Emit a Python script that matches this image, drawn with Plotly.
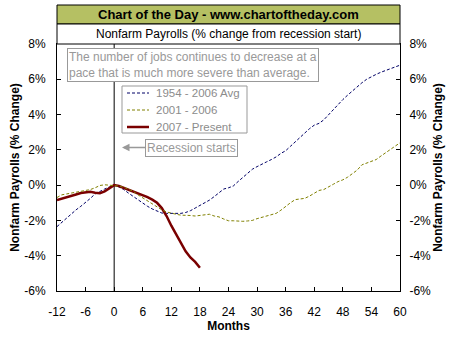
import plotly.graph_objects as go

# Months relative to the start of the recession
months = list(range(-12, 61))

# 1954 - 2006 average (% change from recession start)
avg_1954_2006 = [
    -2.35, -2.10, -1.88, -1.65, -1.40, -1.20, -1.00, -0.75, -0.50, -0.35, -0.22, -0.10,
    0.00, -0.10, -0.25, -0.45, -0.65, -0.85, -1.05, -1.20, -1.35, -1.48, -1.58, -1.60,
    -1.60, -1.60, -1.60, -1.55, -1.45, -1.30, -1.15, -1.00, -0.85, -0.65, -0.45, -0.22,
    -0.15, -0.05, 0.20, 0.45, 0.70, 0.90, 1.05, 1.20, 1.32, 1.45, 1.60, 1.80,
    1.95, 2.20, 2.45, 2.75, 3.00, 3.20, 3.40, 3.50, 3.70, 4.00, 4.30, 4.60,
    4.85, 5.10, 5.35, 5.55, 5.80, 6.00, 6.15, 6.28, 6.40, 6.50, 6.60, 6.70,
    6.80,
]

# 2001 - 2006 cycle
cycle_2001_2006 = [
    -0.70, -0.55, -0.50, -0.45, -0.38, -0.35, -0.30, -0.25, -0.15, -0.02, 0.02, 0.00,
    0.00, -0.05, -0.12, -0.22, -0.35, -0.55, -0.72, -0.90, -1.08, -1.25, -1.40, -1.52,
    -1.60, -1.65, -1.70, -1.70, -1.72, -1.75, -1.72, -1.65, -1.65, -1.75, -1.80, -1.92,
    -2.02, -2.02, -2.05, -2.05, -2.03, -2.00, -1.90, -1.82, -1.78, -1.70, -1.60, -1.42,
    -1.20, -1.00, -0.82, -0.78, -0.75, -0.62, -0.45, -0.30, -0.25, -0.12, 0.05, 0.20,
    0.30, 0.45, 0.65, 0.85, 1.15, 1.25, 1.32, 1.45, 1.65, 1.85, 2.05, 2.25,
    2.40,
]

# 2007 - present (months -12 .. 18)
months_current = list(range(-12, 19))
cycle_2007_present = [
    -0.85, -0.78, -0.70, -0.62, -0.53, -0.45, -0.40, -0.38, -0.43, -0.46, -0.35, -0.18,
    0.00, -0.05, -0.15, -0.25, -0.35, -0.45, -0.55, -0.68, -0.82, -1.00, -1.30, -1.75,
    -2.30, -2.80, -3.30, -3.75, -4.10, -4.35, -4.68,
]

series_names = ["1954 - 2006 Avg", "2001 - 2006", "2007 - Present"]

# Axis ticks
x_ticks = list(range(-12, 61, 6))
x_tick_labels = [str(v) for v in x_ticks]
y_ticks = list(range(-6, 9, 2))
y_tick_labels = [f"{v}%" for v in y_ticks]

FONT = "Arial, 'Liberation Sans', sans-serif"
GRAY = "#999999"
LEGEND_GRAY = "#8c8c8c"

line_styles = [
    dict(color="#000066", width=1, dash="3px,2px"),
    dict(color="#808000", width=1, dash="3px,2px"),
    dict(color="#7A0000", width=2.5),
]

fig = go.Figure()
fig.add_trace(go.Scatter(
    x=months, y=avg_1954_2006, mode="lines", name=series_names[0],
    line=line_styles[0],
))
# second series sits on the right-hand axis (same scale) so that axis is drawn
fig.add_trace(go.Scatter(
    x=months, y=cycle_2001_2006, mode="lines", name=series_names[1], yaxis="y2",
    line=line_styles[1],
))
fig.add_trace(go.Scatter(
    x=months_current, y=cycle_2007_present, mode="lines", name=series_names[2],
    line=line_styles[2],
))

L, R, T, B = 57, 54, 44, 49
W, H = 454, 340
PW, PH = W - L - R, H - T - B


def px_x(p):
    return (p - L) / PW


def px_y(p):
    return (H - B - p) / PH


axis_title_font = dict(family=FONT, size=12, color="black", weight="bold")
tick_font = dict(family=FONT, size=12, color="black")

fig.update_layout(
    width=W, height=H,
    margin=dict(l=L, r=R, t=T, b=B, pad=0),
    paper_bgcolor="white", plot_bgcolor="white",
    font=dict(family=FONT, size=12, color="black"),
    showlegend=False,
    xaxis=dict(
        range=[-12, 60], tickvals=x_ticks, ticktext=x_tick_labels,
        showgrid=False, zeroline=False,
        showline=True, linecolor="black", linewidth=1, mirror=True,
        ticks="inside", ticklen=4, tickcolor="black",
        tickfont=tick_font, ticklabelstandoff=10,
        title=dict(text="Months", font=axis_title_font, standoff=0),
    ),
    yaxis=dict(
        range=[-6, 8], tickvals=y_ticks, ticktext=y_tick_labels,
        showgrid=False, zeroline=False,
        showline=True, linecolor="black", linewidth=1,
        ticks="inside", ticklen=4, tickcolor="black",
        tickfont=tick_font, ticklabelstandoff=8,
        title=dict(text="Nonfarm Payrolls (% Change)", font=axis_title_font, standoff=2),
    ),
    yaxis2=dict(
        range=[-6, 8], tickvals=y_ticks, ticktext=y_tick_labels,
        overlaying="y", side="right", anchor="x",
        showgrid=False, zeroline=False,
        showline=True, linecolor="black", linewidth=1,
        ticks="inside", ticklen=4, tickcolor="black",
        tickfont=tick_font, ticklabelstandoff=6,
        title=dict(text="Nonfarm Payrolls (% Change)", font=axis_title_font, standoff=2),
    ),
)

# Recession start marker
fig.add_shape(type="line", xref="x", yref="paper", x0=0, x1=0, y0=0, y1=1,
              line=dict(color="black", width=1), layer="below")

# Header bands
fig.add_shape(type="rect", xref="paper", yref="paper", x0=0, x1=1,
              y0=px_y(24), y1=px_y(5), fillcolor="#B5C063",
              line=dict(color="black", width=1))
fig.add_shape(type="rect", xref="paper", yref="paper", x0=0, x1=1,
              y0=1, y1=px_y(24), fillcolor="white",
              line=dict(color="black", width=1))

fig.add_annotation(
    text="<b>Chart of the Day - www.chartoftheday.com</b>",
    xref="paper", yref="paper", x=0.5, y=px_y(14.5),
    xanchor="center", yanchor="middle", showarrow=False,
    font=dict(family=FONT, size=13, color="black"),
)
fig.add_annotation(
    text="Nonfarm Payrolls (% change from recession start)",
    xref="paper", yref="paper", x=0.5, y=px_y(34),
    xanchor="center", yanchor="middle", showarrow=False,
    font=dict(family=FONT, size=12, color="black"),
)

# Commentary box
fig.add_annotation(
    text="The number of jobs continues to decrease at a<br>pace that is much more severe than average.",
    xref="paper", yref="paper", x=px_x(67), y=px_y(48),
    xanchor="left", yanchor="top", align="left", showarrow=False,
    bgcolor="white", bordercolor=GRAY, borderwidth=1, borderpad=1,
    font=dict(family=FONT, size=12, color=GRAY),
)

# Legend box with compact rows
fig.add_shape(type="rect", xref="paper", yref="paper",
              x0=px_x(122), x1=px_x(247), y0=px_y(133), y1=px_y(86),
              fillcolor="white", line=dict(color=GRAY, width=1), layer="above")
row_y = [93, 110, 127]
for name, style, ry in zip(series_names, line_styles, row_y):
    fig.add_shape(type="line", xref="paper", yref="paper",
                  x0=px_x(127), x1=px_x(149), y0=px_y(ry), y1=px_y(ry),
                  line=style, layer="above")
    fig.add_annotation(
        text=name, xref="paper", yref="paper", x=px_x(154), y=px_y(ry),
        xanchor="left", yanchor="middle", showarrow=False,
        font=dict(family=FONT, size=11.5, color=LEGEND_GRAY),
    )

# Recession start callout
fig.add_annotation(
    text="Recession starts",
    xref="paper", yref="paper", x=px_x(122), y=px_y(147.5),
    axref="pixel", ayref="pixel", ax=69.5, ay=0,
    showarrow=True, arrowhead=2, arrowsize=1, arrowwidth=1.5, arrowcolor=GRAY,
    bgcolor="white", bordercolor=GRAY, borderwidth=1, borderpad=1,
    font=dict(family=FONT, size=12, color=GRAY),
)

fig.write_html("out.html")
